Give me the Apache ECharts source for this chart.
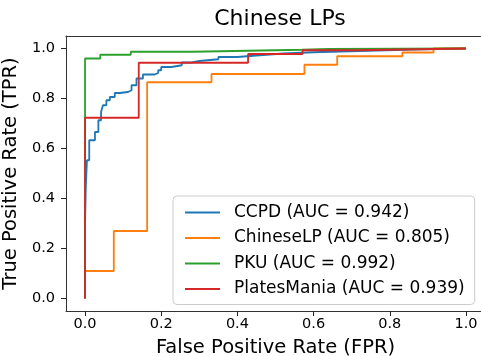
<!DOCTYPE html>
<html>
<head>
<meta charset="utf-8">
<script src="https://cdn.jsdelivr.net/npm/echarts@6/dist/echarts.min.js"></script>
<style>html,body{margin:0;padding:0;background:#fff;}#c{width:481px;height:356px;}</style>
</head>
<body>
<div id="c"></div>
<script>
const tickValues = [0, 0.2, 0.4, 0.6, 0.8, 1.0];

const ccpdFpr = [0,0,0.002,0.002,0.005,0.005,0.011,0.011,0.026,0.026,0.035,0.035,0.042,0.042,0.047,0.047,0.056,0.056,0.065,0.065,0.078,0.078,0.091,0.091,0.113,0.113,0.122,0.122,0.135,0.135,0.152,0.152,0.183,0.183,0.192,0.192,0.2,0.2,0.227,0.227,0.254,0.254,0.28,0.28,0.3,0.3,0.35,0.35,0.4,0.4,0.45,0.45,0.52,0.52,0.6,0.6,0.72,0.72,0.86,0.86,1];
const ccpdTpr = [0,0.297,0.297,0.447,0.447,0.553,0.553,0.633,0.633,0.666,0.666,0.713,0.713,0.746,0.746,0.773,0.773,0.793,0.793,0.806,0.806,0.822,0.822,0.826,0.826,0.833,0.833,0.853,0.853,0.88,0.88,0.896,0.896,0.902,0.902,0.913,0.913,0.926,0.926,0.933,0.933,0.944,0.944,0.95,0.95,0.957,0.957,0.966,0.966,0.972,0.972,0.98,0.98,0.985,0.985,0.99,0.99,0.996,0.996,1.0,1.0];

const chineseFpr = [0,0,0.0755,0.0755,0.163,0.163,0.332,0.332,0.576,0.576,0.662,0.662,0.833,0.833,0.915,0.915,1];
const chineseTpr = [0,0.11,0.11,0.27,0.27,0.865,0.865,0.898,0.898,0.935,0.935,0.969,0.969,0.984,0.984,1,1];

const pkuFpr = [0,0,0.04,0.04,0.12,0.12,0.284,0.284,0.57,0.57,0.64,0.64,1];
const pkuTpr = [0,0.96,0.96,0.975,0.975,0.987,0.987,0.995,0.995,0.998,0.998,1.0,1.0];

const platesFpr = [0,0,0.141,0.141,0.428,0.428,0.571,0.571,0.714,0.714,1];
const platesTpr = [0,0.723,0.723,0.943,0.943,0.978,0.978,0.993,0.993,1,1];

const seriesNames = ['CCPD (AUC = 0.942)', 'ChineseLP (AUC = 0.805)', 'PKU (AUC = 0.992)', 'PlatesMania (AUC = 0.939)'];
const seriesColors = ['#1f77b4', '#ff7f0e', '#2ca02c', '#d62728'];
const seriesFpr = [ccpdFpr, chineseFpr, pkuFpr, platesFpr];
const seriesTpr = [ccpdTpr, chineseTpr, pkuTpr, platesTpr];

const FONT = 'DejaVu Sans';
const chart = echarts.init(document.getElementById('c'), null, {renderer: 'canvas'});

const spine = {show: true, onZero: false, lineStyle: {color: '#333', width: 1}};
const axisCommon = {
  type: 'value',
  min: -0.05, max: 1.05,
  splitLine: {show: false},
  axisLine: spine,
  axisTick: {show: true, customValues: tickValues, length: 5, lineStyle: {color: '#222', width: 1}},
  axisLabel: {customValues: tickValues, formatter: v => v.toFixed(1), color: '#000', fontFamily: FONT, fontSize: 14.5},
  nameLocation: 'middle',
  nameTextStyle: {color: '#000', fontFamily: FONT, fontSize: 19.5}
};

chart.setOption({
  animation: false,
  backgroundColor: '#fff',
  title: {
    text: 'Chinese LPs', left: 275, top: 3, textAlign: 'center',
    textStyle: {fontFamily: FONT, fontSize: 22, fontWeight: 'normal', color: '#000'}
  },
  grid: {left: 66, top: 36, width: 419, height: 275, show: false, outerBoundsMode: 'none', containLabel: false},
  xAxis: [
    Object.assign({}, axisCommon, {
      position: 'bottom',
      name: 'False Positive Rate (FPR)', nameGap: 27,
      axisLabel: Object.assign({}, axisCommon.axisLabel, {margin: 6})
    }),
    {type: 'value', position: 'top', min: -0.05, max: 1.05, axisLine: spine,
     axisTick: {show: false}, axisLabel: {show: false}, splitLine: {show: false}}
  ],
  yAxis: Object.assign({}, axisCommon, {
    position: 'left',
    name: 'True Positive Rate (TPR)', nameGap: 32, nameRotate: 90,
    axisLabel: Object.assign({}, axisCommon.axisLabel, {margin: 11})
  }),
  legend: {
    orient: 'vertical', left: 173, top: 196,
    padding: [8, 10, 7, 12],
    backgroundColor: 'rgba(255,255,255,0.8)', borderColor: '#ccc', borderWidth: 1, borderRadius: 4,
    itemWidth: 35, itemHeight: 2, itemGap: 8.5, icon: 'rect',
    textStyle: {fontFamily: FONT, fontSize: 17, color: '#000', padding: [0, 0, 0, 9]},
    data: seriesNames
  },
  series: seriesNames.map((name, i) => ({
    name: name, type: 'line', showSymbol: false, symbol: 'none',
    xAxisIndex: 0, yAxisIndex: 0,
    data: seriesFpr[i].map((f, j) => [f, seriesTpr[i][j]]),
    lineStyle: {color: seriesColors[i], width: 1.8},
    itemStyle: {color: seriesColors[i]},
    clip: true
  }))
});
</script>
</body>
</html>
